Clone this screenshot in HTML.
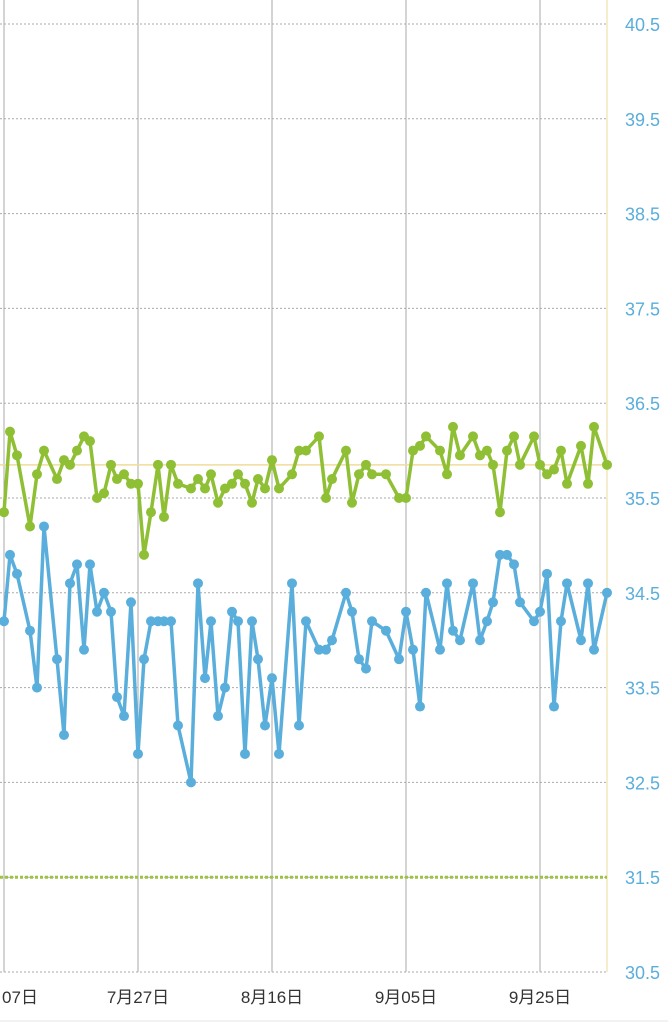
<!DOCTYPE html>
<html><head><meta charset="utf-8"><style>
body{margin:0;background:#fff;width:668px;height:1024px;overflow:hidden}
svg{display:block}
text{font-family:"Liberation Sans","Noto Sans CJK JP",sans-serif}
</style></head><body>
<svg id="s" width="668" height="1024" xmlns="http://www.w3.org/2000/svg"></svg>
<script>
const s=document.getElementById('s');
const Y=v=>24+(40.5-v)*94.8;
let h='';
for(let i=0;i<=10;i++){const v=40.5-i,y=Y(v);
 h+=`<line x1="0" x2="607" y1="${y}" y2="${y}" stroke="#aaa" stroke-dasharray="2,2" stroke-width="1"/>`;
 h+=`<text x="660" y="${y+7}" text-anchor="end" font-size="18" fill="#5aaedb">${v.toFixed(1)}</text>`;}
[4,138,272,406,540].forEach(x=>h+=`<line x1="${x}" x2="${x}" y1="0" y2="972" stroke="#aaa" stroke-width="1"/>`);
h+=`<line x1="607" x2="607" y1="0" y2="972" stroke="#f3e7bd" stroke-width="1.5"/>`;
h+=`<line x1="0" x2="607" y1="${Y(35.85)}" y2="${Y(35.85)}" stroke="#f0dc9a" stroke-width="1.5"/>`;
h+=`<line x1="0" x2="607" y1="${Y(31.5)}" y2="${Y(31.5)}" stroke="#9cc442" stroke-width="3" stroke-dasharray="3,2"/>`;
[["07日",20],["7月27日",138],["8月16日",272],["9月05日",406],["9月25日",540]].forEach(([t,x])=>h+=`<text x="${x}" y="1003" text-anchor="middle" font-size="17" fill="#333">${t}</text>`);
h+=`<line x1="0" x2="668" y1="1021" y2="1021" stroke="#e6e6e6"/>`;
const B=[[4,34.2],[10,34.9],[17,34.7],[30,34.1],[37,33.5],[44,35.2],[57,33.8],[64,33.0],[70,34.6],[77,34.8],[84,33.9],[90,34.8],[97,34.3],[104,34.5],[111,34.3],[117,33.4],[124,33.2],[131,34.4],[138,32.8],[144,33.8],[151,34.2],[158,34.2],[164,34.2],[171,34.2],[178,33.1],[191,32.5],[198,34.6],[205,33.6],[211,34.2],[218,33.2],[225,33.5],[232,34.3],[238,34.2],[245,32.8],[252,34.2],[258,33.8],[265,33.1],[272,33.6],[279,32.8],[292,34.6],[299,33.1],[306,34.2],[319,33.9],[326,33.9],[332,34.0],[346,34.5],[352,34.3],[359,33.8],[366,33.7],[372,34.2],[386,34.1],[399,33.8],[406,34.3],[413,33.9],[420,33.3],[426,34.5],[440,33.9],[447,34.6],[453,34.1],[460,34.0],[473,34.6],[480,34.0],[487,34.2],[493,34.4],[500,34.9],[507,34.9],[514,34.8],[520,34.4],[534,34.2],[540,34.3],[547,34.7],[554,33.3],[561,34.2],[567,34.6],[581,34.0],[588,34.6],[594,33.9],[607,34.5]];
const G=[[4,35.35],[10,36.2],[17,35.95],[30,35.2],[37,35.75],[44,36.0],[57,35.7],[64,35.9],[70,35.85],[77,36.0],[84,36.15],[90,36.1],[97,35.5],[104,35.55],[111,35.85],[117,35.7],[124,35.75],[131,35.65],[138,35.65],[144,34.9],[151,35.35],[158,35.85],[164,35.3],[171,35.85],[178,35.65],[191,35.6],[198,35.7],[205,35.6],[211,35.75],[218,35.45],[225,35.6],[232,35.65],[238,35.75],[245,35.65],[252,35.45],[258,35.7],[265,35.6],[272,35.9],[279,35.6],[292,35.75],[299,36.0],[306,36.0],[319,36.15],[326,35.5],[332,35.7],[346,36.0],[352,35.45],[359,35.75],[366,35.85],[372,35.75],[386,35.75],[399,35.5],[406,35.5],[413,36.0],[420,36.05],[426,36.15],[440,36.0],[447,35.75],[453,36.25],[460,35.95],[473,36.15],[480,35.95],[487,36.0],[493,35.85],[500,35.35],[507,36.0],[514,36.15],[520,35.85],[534,36.15],[540,35.85],[547,35.75],[554,35.8],[561,36.0],[567,35.65],[581,36.05],[588,35.65],[594,36.25],[607,35.85]];
function ser(d,c){let p=d.map(([x,v])=>x+','+Y(v)).join(' ');
 let r=`<polyline points="${p}" fill="none" stroke="${c}" stroke-width="3.5" stroke-linejoin="round"/>`;
 d.forEach(([x,v])=>r+=`<circle cx="${x}" cy="${Y(v)}" r="5" fill="${c}"/>`);return r;}
h+=ser(G,'#8fbf34');h+=ser(B,'#5aaedb');
s.innerHTML=h;
</script>
</body></html>
